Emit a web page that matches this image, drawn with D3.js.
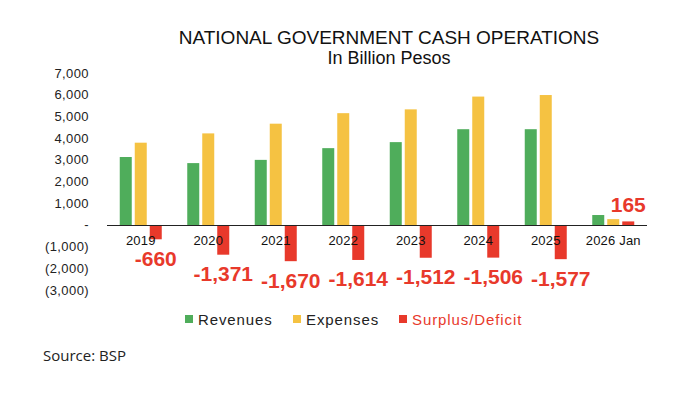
<!DOCTYPE html>
<html lang="en">
<head>
    <meta charset="UTF-8">
    <title>National Government Cash Operations</title>
    <script src="https://d3js.org/d3.v7.min.js"></script>
    <style>
        body {
            margin: 0;
            background-color: white;
        }

        #canvas {
            width: 690px;
            height: 394px;
            display: block;
        }

        text {
            font-family: "Liberation Sans", Arial, sans-serif;
        }
    </style>
</head>

<body>
<svg id="canvas" viewBox="0 0 690 394"></svg>

<script>

    // values in billion pesos
    let categories = ["2019", "2020", "2021", "2022", "2023", "2024", "2025", "2026 Jan"]
    let revenues = [3137, 2856, 3005, 3546, 3824, 4420, 4420, 460]
    let expenses = [3798, 4227, 4675, 5160, 5336, 5926, 5997, 270]
    let surplus = [-660, -1371, -1670, -1614, -1512, -1506, -1577, 165]
    let yTicks = [-3000, -2000, -1000, 0, 1000, 2000, 3000, 4000, 5000, 6000, 7000]

    let series = [
        {name: "Revenues", values: revenues, color: "#4fad5b", text: "#222"},
        {name: "Expenses", values: expenses, color: "#f5c242", text: "#222"},
        {name: "Surplus/Deficit", values: surplus, color: "#e8392b", text: "#e8392b"}
    ]

    let svg = d3.select('svg')

    let fmt = d3.formatLocale({decimal: ".", thousands: ",", grouping: [3], currency: ["", ""], minus: "-"}).format(",")

    let x = d3.scaleBand()
        .domain(categories)
        .range([107, 647])

    let x1 = d3.scaleBand()
        .domain(series.map(s => s.name))
        .range([0, 42])
        .paddingInner(0.2)

    let y = d3.scaleLinear()
        .domain([-3000, 7000])
        .range([290, 73.3])

    // title
    svg.append('text')
        .attr('x', 389).attr('y', 37)
        .attr('text-anchor', 'middle').attr('dominant-baseline', 'central')
        .style('font-size', '19px').attr('fill', '#111')
        .text('NATIONAL GOVERNMENT CASH OPERATIONS')
    svg.append('text')
        .attr('x', 389).attr('y', 58)
        .attr('text-anchor', 'middle').attr('dominant-baseline', 'central')
        .style('font-size', '18px').attr('fill', '#111')
        .text('In Billion Pesos')

    // y axis labels (no line)
    svg.append('g').selectAll('text')
        .data(yTicks)
        .enter()
        .append('text')
        .attr('x', 89)
        .attr('y', d => y(d))
        .attr('text-anchor', 'end')
        .attr('dominant-baseline', 'central')
        .style('font-size', '13px')
        .style('letter-spacing', '0.4px')
        .attr('fill', '#222')
        .text(function (d) {
            if (d == 0) return '-  '
            if (d < 0) return '(' + fmt(-d) + ')'
            return fmt(d)
        })

    // bars
    let groups = svg.append('g').selectAll('g')
        .data(series)
        .enter()
        .append('g')
        .attr('fill', s => s.color)

    groups.selectAll('rect')
        .data(s => s.values.map((v, i) => ({name: s.name, cat: categories[i], v: v})))
        .enter()
        .append('rect')
        .attr('x', d => x(d.cat) + x.bandwidth() / 2 - 21 + x1(d.name))
        .attr('width', x1.bandwidth())
        .attr('y', d => y(Math.max(0, d.v)))
        .attr('height', d => Math.abs(y(d.v) - y(0)))

    // zero line
    svg.append('line')
        .attr('x1', x.range()[0]).attr('x2', x.range()[1])
        .attr('y1', y(0) + 0.5).attr('y2', y(0) + 0.5)
        .attr('stroke', '#222').attr('stroke-width', 1.2)

    // category labels
    svg.append('g').selectAll('text')
        .data(categories)
        .enter()
        .append('text')
        .attr('x', d => x(d) + x.bandwidth() / 2)
        .attr('y', 240.5)
        .attr('text-anchor', 'middle')
        .attr('dominant-baseline', 'central')
        .style('font-size', '13px')
        .style('letter-spacing', '0.2px')
        .attr('fill', '#111')
        .text(d => d)

    // surplus / deficit data labels
    svg.append('g').selectAll('text')
        .data(surplus)
        .enter()
        .append('text')
        .attr('x', (d, i) => x(categories[i]) + x.bandwidth() / 2 - 21 + x1('Surplus/Deficit') + x1.bandwidth() / 2)
        .attr('y', d => d < 0 ? y(d) + 19 : y(d) - 17)
        .attr('text-anchor', 'middle')
        .attr('dominant-baseline', 'central')
        .style('font-size', '21px')
        .style('font-weight', 'bold')
        .attr('fill', '#e8392b')
        .text(d => fmt(d))

    // legend
    let legendX = [185, 293, 399]
    let legend = svg.append('g').selectAll('g')
        .data(series)
        .enter()
        .append('g')
        .attr('transform', (s, i) => 'translate(' + legendX[i] + ',319)')
    legend.append('rect')
        .attr('x', 0).attr('y', -4)
        .attr('width', 8).attr('height', 8)
        .attr('fill', s => s.color)
    legend.append('text')
        .attr('x', 13).attr('y', 0)
        .attr('dominant-baseline', 'central')
        .style('font-size', '15px')
        .style('letter-spacing', '0.9px')
        .attr('fill', s => s.text)
        .text(s => s.name)

    // source note
    svg.append('text')
        .attr('x', 43).attr('y', 355)
        .attr('dominant-baseline', 'central')
        .style('font-family', '"Open Sans", sans-serif')
        .style('font-size', '15px')
        .attr('fill', '#222')
        .text('Source: BSP')

</script>
</body>
</html>
